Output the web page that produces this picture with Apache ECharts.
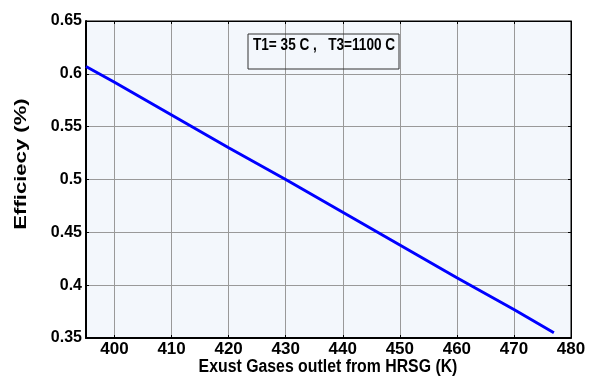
<!DOCTYPE html>
<html>
<head>
<meta charset="utf-8">
<script src="https://cdn.jsdelivr.net/npm/echarts@6/dist/echarts.min.js"></script>
<style>
    html, body { margin: 0; padding: 0; background: #fff; }
    #chart { width: 589px; height: 381px; }
</style>
</head>
<body>
<div id="chart"></div>
<script>
// data
const exhaustTemp = [395, 400, 410, 420, 430, 440, 450, 460, 470, 477]
const efficiency = [0.607, 0.592, 0.561, 0.530, 0.500, 0.469, 0.438, 0.407, 0.377, 0.355]
const xTicks = [400, 410, 420, 430, 440, 450, 460, 470, 480]
const yTicks = [0.35, 0.4, 0.45, 0.5, 0.55, 0.6, 0.65]
const xTitle = 'Exust Gases outlet from HRSG (K)'
const yTitle = 'Efficiecy (%)'
const note = 'T1= 35 C ,   T3=1100 C'

const font = '"Liberation Sans", Arial, sans-serif'

let chart = echarts.init(document.querySelector('#chart'))

let tickStyle = { show: true, inside: true, length: 3, lineStyle: { color: '#000' } }

let option = {
    animation: false,
    backgroundColor: '#fff',
    grid: {
        left: 86,
        top: 21,
        right: 18,
        bottom: 43,
        show: true,
        backgroundColor: '#f3f7fc',
        borderColor: '#000',
        borderWidth: 1
    },
    xAxis: [{
        type: 'value',
        min: 395,
        max: 480,
        splitNumber: 8,
        axisLine: { show: true, onZero: false, lineStyle: { color: '#000', width: 2 } },
        axisTick: tickStyle,
        splitLine: { show: true, lineStyle: { color: '#999', width: 1 } },
        axisLabel: {
            color: '#000',
            fontFamily: font,
            fontWeight: 'bold',
            fontSize: 17,
            margin: 3,
            formatter: function (v) {
                return xTicks.indexOf(v) >= 0 ? String(v) : ''
            }
        }
    }, {
        type: 'value',
        position: 'top',
        min: 395,
        max: 480,
        splitNumber: 8,
        axisLine: { show: true, lineStyle: { color: '#000', width: 1 } },
        axisTick: tickStyle,
        axisLabel: { show: false },
        splitLine: { show: false }
    }],
    yAxis: [{
        type: 'value',
        min: yTicks[0],
        max: yTicks[yTicks.length - 1],
        interval: 0.05,
        axisLine: { show: true, onZero: false, lineStyle: { color: '#000', width: 2 } },
        axisTick: tickStyle,
        splitLine: { show: true, lineStyle: { color: '#999', width: 1 } },
        axisLabel: {
            color: '#000',
            fontFamily: font,
            fontWeight: 'bold',
            fontSize: 16,
            margin: 4,
            formatter: function (v) {
                return String(Math.round(v * 100) / 100)
            }
        }
    }, {
        type: 'value',
        position: 'right',
        min: yTicks[0],
        max: yTicks[yTicks.length - 1],
        interval: 0.05,
        axisLine: { show: true, lineStyle: { color: '#000', width: 1 } },
        axisTick: tickStyle,
        axisLabel: { show: false },
        splitLine: { show: false }
    }],
    graphic: [
        // axis titles, squeezed / stretched like the original figure font
        {
            type: 'text',
            x: 328,
            y: 367,
            scaleX: 0.88,
            style: {
                text: xTitle,
                fill: '#000',
                font: 'bold 18px ' + font,
                align: 'center',
                verticalAlign: 'middle'
            }
        },
        {
            type: 'text',
            x: 22,
            y: 164,
            rotation: Math.PI / 2,
            scaleX: 1.38,
            style: {
                text: yTitle,
                fill: '#000',
                font: 'bold 16px ' + font,
                align: 'center',
                verticalAlign: 'middle'
            }
        },
        // annotation box
        {
            type: 'rect',
            shape: { x: 248, y: 34, width: 151, height: 35 },
            style: { fill: 'rgba(0,0,0,0)', stroke: '#333', lineWidth: 1 },
            z: 10
        },
        {
            type: 'text',
            x: 253,
            y: 45,
            scaleX: 0.8,
            style: {
                text: note,
                fill: '#000',
                font: 'bold 17px ' + font,
                verticalAlign: 'middle'
            },
            z: 10
        }
    ],
    series: [{
        type: 'line',
        xAxisIndex: 0,
        yAxisIndex: 0,
        data: exhaustTemp.map((t, i) => [t, efficiency[i]]),
        showSymbol: false,
        lineStyle: { color: '#0000ff', width: 3 },
        z: 5
    }]
}

chart.setOption(option)
</script>
</body>
</html>
